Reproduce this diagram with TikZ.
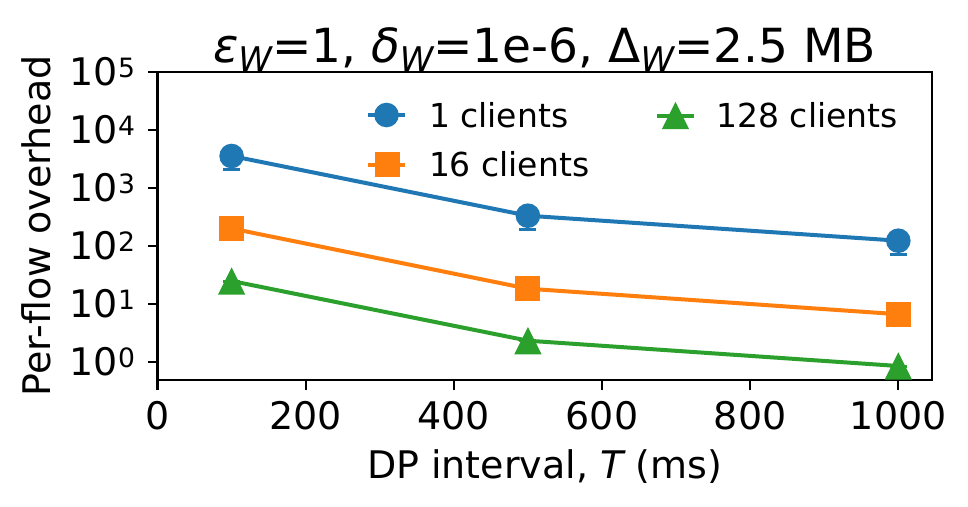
\documentclass[tikz,border=0pt]{standalone}
\usepackage{fontspec}
\setmainfont{DejaVu Sans}
\definecolor{mblue}{HTML}{1F77B4}
\definecolor{morange}{HTML}{FF7F0E}
\definecolor{mgreen}{HTML}{2CA02C}
\newcommand\supr[1]{\raisebox{8.4pt}{\fontsize{26.6}{28}\selectfont #1}}
\newcommand\subw{\raisebox{-9pt}{\fontsize{34}{36}\selectfont\itshape W}}
\begin{document}
\begin{tikzpicture}[x=1pt,y=-1pt,
  every node/.style={inner sep=0pt, outer sep=0pt},
  spine/.style={line width=2.2pt, line cap=rect, line join=miter},
  tickmark/.style={line width=2.2pt},
  ticklab/.style={font=\fontsize{38}{40}\selectfont},
  dline/.style={line width=4pt, line join=round},
  bluedot/.style={circle, fill=mblue, minimum size=24.6pt},
  orsq/.style={rectangle, fill=morange, minimum size=25pt},
  errcap/.style={line width=3pt},
  legtext/.style={font=\fontsize{33}{36}\selectfont, anchor=base west},
  tri/.pic={\fill[mgreen] (0,-13.65) -- (13.65,13.65) -- (-13.65,13.65) -- cycle;}
]
\useasboundingbox (0,0) rectangle (968,506);
\fill[white] (0,0) rectangle (968,506);

% axes frame
\coordinate (axll) at (157.5,380);
\coordinate (axur) at (931.7,72);
\draw[spine] (axll) rectangle (axur);

% x ticks
\foreach \v in {0,200,400,600,800,1000} {
  \pgfmathsetmacro\xx{157.5+0.7408*\v}
  \draw[tickmark] (\xx,380) -- (\xx,389.5);
  \node[ticklab, anchor=base] (xt\v) at (\xx,429.5) {\v};
}
% y ticks
\foreach \k in {0,...,5} {
  \pgfmathsetmacro\yy{361.7-57.94*\k}
  \draw[tickmark] (148,\yy) -- (157.5,\yy);
  \node[ticklab, anchor=base east] (yt\k) at (135,\yy+13.9) {10\supr{\k}};
}

% axis labels and title
\node[ticklab, anchor=base] (xlab) at (544.6,478) {DP interval, {\itshape T} (ms)};
\node[ticklab, anchor=base, rotate=90] (ylab) at (50,226) {Per-flow overhead};
\node[font=\fontsize{47}{50}\selectfont, anchor=base] (title) at (544.6,62)
  {{\itshape ε}\subw=1, {\itshape δ}\subw=1e-6, Δ\subw=2.5 MB};

% data points
\coordinate (b1) at (231.6,156);
\coordinate (b2) at (527.9,215.7);
\coordinate (b3) at (898.3,240.7);
\coordinate (o1) at (231.6,228.5);
\coordinate (o2) at (527.9,288.7);
\coordinate (o3) at (898.3,314.2);
\coordinate (g1) at (231.6,281);
\coordinate (g2) at (527.9,340.7);
\coordinate (g3) at (898.3,366);

% lines
\draw[dline, mblue] (b1) -- (b2) -- (b3);
\draw[dline, morange] (o1) -- (o2) -- (o3);
\draw[dline, mgreen] (g1) -- (g2) -- (g3);

% error bars
\foreach \p in {b1,b2,b3} {
  \draw[errcap, mblue] (\p) -- ([yshift=-13.4pt]\p);
  \draw[errcap, mblue] ([xshift=-8.5pt,yshift=-13.4pt]\p) -- ([xshift=8.5pt,yshift=-13.4pt]\p);
}
\foreach \p in {g1,g2,g3} {
  \draw[errcap, mgreen] ([xshift=-8.5pt]\p) -- ([xshift=8.5pt]\p);
}

% markers
\foreach \p in {b1,b2,b3} { \node[bluedot] (m\p) at (\p) {}; }
\foreach \p in {o1,o2,o3} { \node[orsq] (m\p) at (\p) {}; }
\foreach \p in {g1,g2,g3} { \pic (m\p) at (\p) {tri}; }

% legend
\coordinate (l1a) at (368,115);
\coordinate (l1b) at (405,115);
\coordinate (l1m) at (386.5,115);
\coordinate (l2a) at (368,164.5);
\coordinate (l2b) at (405,164.5);
\coordinate (l2m) at (387.5,164.5);
\coordinate (l3a) at (656.7,115.5);
\coordinate (l3b) at (694,115.5);
\coordinate (l3m) at (675.5,115.5);
\draw[dline, mblue] (l1a) -- (l1b);
\node[bluedot] (lm1) at (l1m) {};
\draw[dline, morange] (l2a) -- (l2b);
\node[orsq] (lm2) at (l2m) {};
\draw[dline, mgreen] (l3a) -- (l3b);
\pic (lm3) at (l3m) {tri};
\node[legtext] (lt1) at (429,127.5) {1 clients};
\node[legtext] (lt2) at (429,176.5) {16 clients};
\node[legtext] (lt3) at (716.5,127.3) {128 clients};
\end{tikzpicture}
\end{document}
